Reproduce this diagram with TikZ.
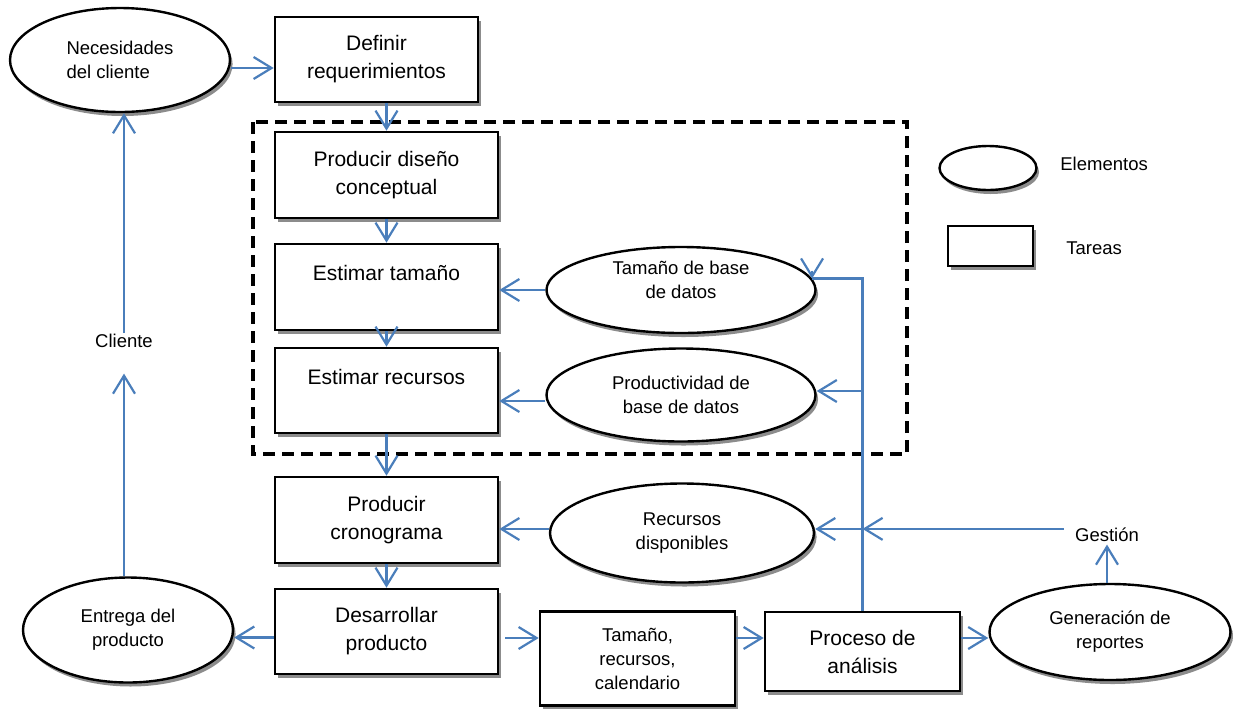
\documentclass[tikz,border=0pt]{standalone}
\usepackage{fontspec}
\setmainfont{Liberation Sans}
\usetikzlibrary{arrows.meta,shadows,shapes.geometric}
\definecolor{conncol}{RGB}{74,126,187}
\definecolor{shadowgray}{RGB}{140,140,140}
\tikzset{
  shd/.style={drop shadow={shadow xshift=1.3pt,shadow yshift=-2pt,fill=shadowgray,opacity=1}},
  taskbox/.style={rectangle,draw=black,line width=1.3pt,fill=white,shd,align=center,inner sep=0pt,font=\fontsize{10.5}{14}\selectfont},
  elem/.style={ellipse,draw=black,line width=1.2pt,fill=white,shd,align=center,inner sep=0pt,font=\fontsize{9.25}{12}\selectfont},
  lbl/.style={inner sep=0pt,font=\fontsize{9.25}{12}\selectfont},
  conn/.style={draw=conncol,line width=1.1pt,-{Straight Barb[length=9pt,width=11pt]}},
  cline/.style={draw=conncol,line width=1.1pt},
  dashbox/.style={draw=black,line width=1.6pt,dash pattern=on 6pt off 3.5pt},
}
\begin{document}
\begin{tikzpicture}[x=0.5pt,y=-0.5pt]
\useasboundingbox (0,0) rectangle (1233,708);
\draw[dashbox] (253,122) rectangle (907,454);

% tasks
\node[taskbox,minimum width=101.5pt,minimum height=42.5pt] (def) at (376.5,59.5) {Definir\\requerimientos};
\node[taskbox,minimum width=111.5pt,minimum height=43pt] (pdc) at (386.5,175) {Producir diseño\\conceptual};
\node[taskbox,minimum width=111.5pt,minimum height=43pt] (et) at (386.5,287) {Estimar tamaño\\\mbox{}};
\node[taskbox,minimum width=111.5pt,minimum height=42.5pt] (er) at (386.5,390.5) {Estimar recursos\\\mbox{}};
\node[taskbox,minimum width=111.5pt,minimum height=43pt] (pc) at (386.5,520) {Producir\\cronograma};
\node[taskbox,minimum width=111.5pt,minimum height=42.5pt] (dp) at (386.5,631.5) {Desarrollar\\producto};
\node[taskbox,minimum width=97.5pt,minimum height=47pt,font=\fontsize{9.25}{12}\selectfont] (trc) at (637.5,658.5) {Tamaño,\\recursos,\\calendario};
\node[taskbox,minimum width=97.5pt,minimum height=39.5pt] (pa) at (862.5,651.5) {Proceso de\\análisis};

% elements
\node[elem,minimum width=110pt,minimum height=52pt,align=left] (nec) at (120,60) {Necesidades\\del cliente};
\node[elem,minimum width=134.5pt,minimum height=43pt] (tam) at (681,290) {};
\node[lbl,align=center] (tamT) at (681,280) {Tamaño de base\\de datos};
\node[elem,minimum width=134.5pt,minimum height=46.5pt] (prod) at (681,395) {Productividad de\\base de datos};
\node[elem,minimum width=132pt,minimum height=49.5pt] (rec) at (682,533) {Recursos\\disponibles};
\node[elem,minimum width=120.5pt,minimum height=48pt] (gen) at (1110,632) {Generación de\\reportes};
\node[elem,minimum width=105pt,minimum height=52.5pt] (ent) at (128,630) {Entrega del\\producto};

% labels
\node[lbl,anchor=base] (cli) at (124,347) {Cliente};
\node[lbl,anchor=base] (ges) at (1107,541) {Gestión};

% legend
\node[elem,minimum width=48.5pt,minimum height=22pt] (legE) at (988,168) {};
\node[lbl,anchor=base west] (legEt) at (1060,170) {Elementos};
\node[taskbox,minimum width=42.5pt,minimum height=20pt] (legT) at (990.5,246) {};
\node[lbl,anchor=base west] (legTt) at (1066,254) {Tareas};

% helper coordinates
\coordinate (row) at (0,638);
\coordinate (dpE) at ([xshift=3pt]dp.east);
\coordinate (cliB) at ([yshift=-13pt]cli.south);
\coordinate (gesL) at ([xshift=-5.5pt,yshift=2.7pt]ges.west);
\coordinate (tamR) at (tam.5);
\coordinate (prodR) at ([yshift=2pt]prod.east);
\coordinate (recR) at ([yshift=2pt]rec.east);

% connectors
\draw[conn] ([yshift=-4pt]nec.east) -- ([yshift=-4pt]nec.east -| def.west);
\draw[conn] (def.south -| pdc.north) -- (pdc.north);
\draw[conn] (pdc.south) -- (et.north);
\draw[conn] (et.south) -- (er.north);
\draw[conn] (er.south) -- (pc.north);
\draw[conn] (pc.south) -- (dp.north);
\draw[conn] (tam.west) -- (tam.west -| et.east);
\draw[conn] ([yshift=-3pt]prod.west) -- ([yshift=-3pt]prod.west -| er.east);
\draw[conn] ([yshift=2pt]rec.west) -- ([yshift=2pt]rec.west -| pc.east);
\draw[conn] ([yshift=-3pt]dp.west) -- ([yshift=-3pt]dp.west -| ent.east);
\draw[conn] (cli |- ent.north) -- (cliB);
\draw[conn] (cli.north) -- (cli.north |- nec.south);
\draw[conn] (dpE |- row) -- (trc.west |- row);
\draw[conn] (trc.east |- row) -- (pa.west |- row);
\draw[conn] (pa.east |- row) -- (gen.west |- row);
\draw[conn] (gen.north -| ges) -- ([yshift=-1.5pt]ges.south);
\draw[cline] (pa.north) -- (pa.north |- tamR) -- (tamR);
\draw[conn] ([yshift=4pt]tamR) -- (tamR);
\draw[conn] (pa.north |- prodR) -- (prodR);
\draw[conn] (pa.north |- recR) -- (recR);
\draw[conn] (gesL) -- (pa.north |- gesL);
\end{tikzpicture}
\end{document}
